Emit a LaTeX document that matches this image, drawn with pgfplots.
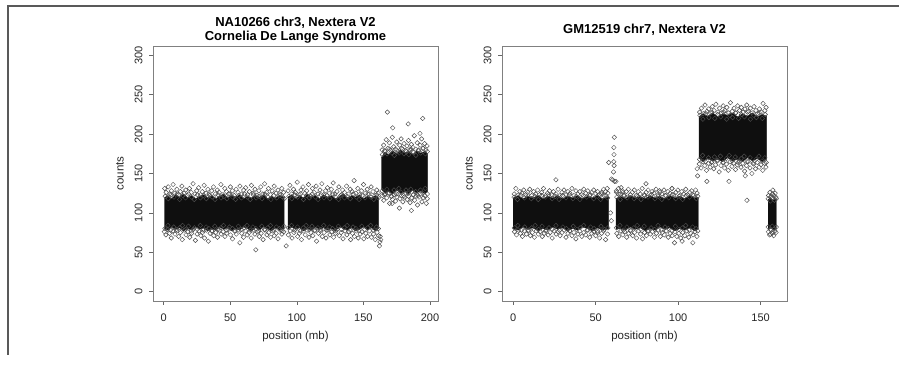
\documentclass[border=0pt]{standalone}
\usepackage{pgfplots}
\pgfplotsset{compat=1.18}
\usepackage{fontspec}
\setmainfont{Liberation Sans}
\pgfplotsset{
  rstyle/.style={
    scale only axis, width=285pt, height=255pt, anchor=south west,
    ymin=-12, ymax=312, ytick={0,50,...,300},
    tick align=outside, xtick pos=left, ytick pos=left,
    major tick length=4pt,
    axis line style={black!50, line width=0.7pt},
    tick style={black!60, line width=0.6pt},
    ticklabel style={font=\fontsize{11}{12}\selectfont, text=black!85},
    yticklabel style={rotate=90, anchor=south},
    yticklabel shift=3pt, xticklabel shift=5pt,
    /pgf/number format/assume math mode=true,
    xlabel={position (mb)}, ylabel={counts},
    label style={font=\fontsize{11.5}{12}\selectfont, text=black!85},
    xlabel style={at={(axis description cs:0.5,-0.141)}, anchor=center},
    ylabel style={at={(axis description cs:-0.116,0.5)}, anchor=center, rotate=0},
    title style={at={(axis description cs:0.5,1.039)}, anchor=center, align=center, font=\bfseries\fontsize{13}{14.5}\selectfont},
    clip=false,
  },
  core/.style={fill=black!94, draw=black!85, line width=0.4pt, forget plot},
  pts/.style={only marks, mark=square, mark size=1.6pt, mark options={rotate=45, draw=black!70, line width=0.45pt, fill=none}, forget plot},
}
\begin{document}
\begin{tikzpicture}
\path[use as bounding box] (0,0) rectangle (899pt,366pt);
\draw[line width=2pt, color=black!65] (8pt,11pt) -- (8pt,360pt) -- (899pt,360pt);
% ---------------- left panel ----------------
\begin{axis}[rstyle, at={(153pt,65pt)}, xmin=-8, xmax=206, xtick={0,50,...,200},
  title={NA10266 chr3, Nextera V2\\Cornelia De Lange Syndrome}]
\addplot[core] coordinates {(0.5,119)(3,122)(6,118)(9,123)(12,120)(15,124)(18,119)(21,122)(24,118)(27,121)(30,123)(33,119)(36,122)(39,118)(42,121)(45,124)(48,119)(51,122)(54,120)(57,123)(60,118)(63,121)(66,119)(69,122)(72,120)(75,123)(78,118)(81,121)(84,119)(87,122)(90.5,120)
(90.5,80)(87,78)(84,81)(81,77)(78,80)(75,82)(72,78)(69,81)(66,77)(63,80)(60,82)(57,78)(54,80)(51,77)(48,81)(45,79)(42,82)(39,78)(36,80)(33,77)(30,81)(27,79)(24,82)(21,78)(18,80)(15,77)(12,81)(9,79)(6,82)(3,78)(0.5,80)};
\addplot[core] coordinates {(93.3,120)(96,123)(99,118)(102,122)(105,119)(108,124)(111,120)(114,122)(117,118)(120,123)(123,120)(126,122)(129,118)(132,121)(135,124)(138,119)(141,122)(144,120)(147,123)(150,118)(153,121)(156,119)(159,122)(161.4,119)
(161.4,80)(159,77)(156,81)(153,78)(150,82)(147,79)(144,77)(141,81)(138,78)(135,80)(132,82)(129,77)(126,80)(123,78)(120,81)(117,79)(114,82)(111,78)(108,80)(105,77)(102,81)(99,79)(96,82)(93.3,79)};
\addplot[core] coordinates {(163.5,170)(166,177)(169,174)(172,179)(175,175)(178,180)(181,176)(184,178)(187,174)(190,179)(193,176)(196,178)(198.2,175)
(198.2,127)(196,124)(193,128)(190,125)(187,129)(184,124)(181,127)(178,125)(175,129)(172,124)(169,127)(166,125)(163.5,130)};
\addplot[pts] coordinates {
(1.2,121)(3.5,118)(5.5,123)(7.8,120)(10.1,124)(12.0,117)(14.3,122)(16.4,119)(18.7,124)(20.9,120)(23.0,117)(25.4,123)(27.5,119)(29.8,122)(32.0,118)(34.1,124)(36.4,120)(38.6,117)(40.8,123)(43.1,119)(45.2,121)(47.5,118)(49.6,124)(51.9,120)(54.0,117)(56.3,122)(58.4,119)(60.7,124)(62.9,120)(65.0,117)(67.3,123)(69.5,119)(71.7,121)(73.9,118)(76.1,124)(78.3,120)(80.5,117)(82.7,122)(84.9,119)(87.1,124)(89.3,120)(90.6,118)
(1.0,80)(3.2,84)(5.3,78)(7.6,82)(9.8,77)(12.1,81)(14.2,84)(16.5,79)(18.6,83)(20.8,77)(23.1,81)(25.2,79)(27.5,84)(29.6,78)(31.9,82)(34.0,80)(36.3,77)(38.4,83)(40.7,79)(42.9,81)(45.0,84)(47.3,78)(49.4,82)(51.7,80)(53.8,77)(56.1,83)(58.2,79)(60.5,81)(62.6,84)(64.9,78)(67.0,82)(69.3,80)(71.4,77)(73.7,83)(75.8,79)(78.1,81)(80.2,84)(82.5,78)(84.6,82)(86.9,80)(89.0,77)(90.4,83)
(0.8,131)(1.9,126)(3.4,133)(4.6,124)(5.8,128)(7.1,136)(8.3,125)(9.9,130)(11.2,123)(12.5,127)(13.7,134)(15.3,125)(16.6,129)(18.0,122)(19.4,131)(20.7,126)(22.1,137)(23.5,124)(24.8,128)(26.3,132)(27.6,123)(29.0,127)(30.4,135)(31.9,125)(33.2,130)(34.6,122)(36.1,128)(37.4,133)(38.9,124)(40.3,129)(41.7,126)(43.0,136)(44.5,123)(45.9,131)(47.2,127)(48.7,124)(50.1,133)(51.6,128)(53.0,122)(54.4,130)(55.8,126)(57.3,134)(58.7,124)(60.1,129)(61.6,132)(63.0,123)(64.4,127)(65.9,135)(67.3,125)(68.6,130)(70.1,122)(71.5,128)(72.9,133)(74.4,124)(75.8,137)(77.2,126)(78.7,131)(80.1,123)(81.5,128)(83.0,134)(84.4,125)(85.8,129)(87.3,122)(88.7,131)(90.1,126)
(0.5,76)(1.7,72)(3.0,79)(4.4,74)(5.7,68)(7.0,77)(8.5,73)(9.8,79)(11.3,70)(12.6,75)(14.0,66)(15.4,78)(16.8,72)(18.1,76)(19.6,69)(21.0,74)(22.3,79)(23.8,65)(25.1,73)(26.5,77)(27.9,71)(29.2,75)(30.7,68)(32.1,78)(33.5,64)(34.9,74)(36.3,77)(37.6,71)(39.1,75)(40.4,69)(41.9,78)(43.2,73)(44.7,76)(46.0,70)(47.4,74)(48.9,79)(50.2,72)(51.7,67)(53.1,77)(54.5,73)(55.9,78)(57.2,62)(58.6,74)(60.0,69)(61.5,77)(62.8,72)(64.3,75)(65.7,68)(67.1,78)(68.5,73)(69.2,53)(70.4,76)(71.8,70)(73.2,74)(74.7,66)(76.0,78)(77.5,72)(78.9,75)(80.3,69)(81.7,77)(83.1,71)(84.5,74)(85.9,67)(87.4,78)(88.8,73)(90.2,76)
(92,58)
(94.0,121)(96.2,118)(98.4,123)(100.6,120)(102.8,124)(105.0,117)(107.2,122)(109.4,119)(111.6,124)(113.8,120)(116.0,117)(118.2,123)(120.4,119)(122.6,122)(124.8,118)(127.0,124)(129.2,120)(131.4,117)(133.6,123)(135.8,119)(138.0,121)(140.2,118)(142.4,124)(144.6,120)(146.8,117)(149.0,122)(151.2,119)(153.4,124)(155.6,120)(157.8,117)(160.0,123)(161.2,119)
(93.8,81)(96.0,84)(98.2,78)(100.4,82)(102.6,77)(104.8,81)(107.0,84)(109.2,79)(111.4,83)(113.6,77)(115.8,81)(118.0,79)(120.2,84)(122.4,78)(124.6,82)(126.8,80)(129.0,77)(131.2,83)(133.4,79)(135.6,81)(137.8,84)(140.0,78)(142.2,82)(144.4,80)(146.6,77)(148.8,83)(151.0,79)(153.2,81)(155.4,84)(157.6,78)(159.8,82)(161.2,80)
(93.4,128)(94.8,135)(96.1,124)(97.5,130)(98.9,126)(100.3,139)(101.7,123)(103.1,129)(104.6,133)(106.0,125)(107.4,128)(108.8,136)(110.2,122)(111.7,131)(113.1,126)(114.5,134)(115.9,124)(117.4,129)(118.8,137)(120.2,123)(121.6,128)(123.0,132)(124.5,125)(125.9,130)(127.3,138)(128.7,124)(130.1,127)(131.6,133)(133.0,122)(134.4,129)(135.8,126)(137.3,134)(138.7,124)(140.1,130)(141.5,127)(143.0,141)(144.4,125)(145.8,131)(147.2,123)(148.6,128)(150.1,136)(151.5,125)(152.9,130)(154.3,124)(155.8,133)(157.2,127)(158.6,122)(160.0,129)(161.2,125)
(93.6,72)(95.0,77)(96.4,68)(97.8,75)(99.2,79)(100.6,70)(102.0,74)(103.5,66)(104.9,77)(106.3,72)(107.7,78)(109.1,69)(110.6,75)(112.0,71)(113.4,78)(114.8,64)(116.2,74)(117.7,77)(119.1,70)(120.5,75)(121.9,68)(123.3,78)(124.8,72)(126.2,76)(127.6,69)(129.0,74)(130.4,79)(131.9,71)(133.3,75)(134.7,67)(136.1,77)(137.6,72)(139.0,76)(140.4,66)(141.8,74)(143.2,70)(144.7,77)(146.1,68)(147.5,73)(148.9,76)(150.3,67)(151.8,74)(153.2,70)(154.6,77)(156.0,69)(157.5,73)(158.9,66)(160.3,75)(161.3,71)
(162,58)(162.4,63)(163,66)(162.6,70)
(164.2,174)(166.0,179)(167.8,175)(169.6,181)(171.4,176)(173.2,173)(175.0,180)(176.8,176)(178.6,182)(180.4,175)(182.2,178)(184.0,174)(185.8,181)(187.6,177)(189.4,173)(191.2,180)(193.0,176)(194.8,182)(196.6,175)(198.0,178)
(164.0,128)(165.8,123)(167.6,130)(169.4,125)(171.2,121)(173.0,129)(174.8,124)(176.6,131)(178.4,126)(180.2,122)(182.0,129)(183.8,125)(185.6,130)(187.4,123)(189.2,127)(191.0,122)(192.8,129)(194.6,125)(196.4,131)(198.0,124)
(164.0,180)(165.2,186)(166.3,178)(167.1,193)(168.0,228)(168.4,182)(169.5,189)(170.6,179)(171.7,196)(172.0,208)(172.8,184)(173.9,181)(175.0,190)(176.1,178)(177.2,186)(178.3,194)(179.4,181)(180.5,188)(181.6,179)(182.7,185)(183.6,213)(183.8,192)(184.9,180)(186.0,187)(187.1,183)(188.2,198)(189.3,181)(190.4,189)(191.5,179)(192.5,201)(192.6,186)(193.7,194)(194.5,220)(194.8,182)(195.9,188)(197.0,180)(197.8,185)
(164.2,122)(165.3,116)(166.4,124)(167.5,119)(168.6,125)(169.7,112)(170.8,121)(171.6,112)(171.9,117)(173.0,123)(174.1,115)(175.2,120)(176.3,124)(177.0,106)(177.4,118)(178.5,122)(179.6,114)(180.7,120)(181.8,125)(182.9,117)(184.0,121)(185.1,113)(186.0,103)(186.2,119)(187.3,123)(188.4,116)(189.5,121)(190.6,110)(191.7,120)(192.8,124)(193.9,114)(195.0,119)(196.1,122)(197.2,112)(198.0,118)
};
\end{axis}
% ---------------- right panel ----------------
\begin{axis}[rstyle, at={(502pt,65pt)}, xmin=-6.8, xmax=166, xtick={0,50,...,150},
  title={GM12519 chr7, Nextera V2}]
\addplot[core] coordinates {(0,119)(3,122)(6,118)(9,121)(12,119)(15,122)(18,118)(21,121)(24,119)(27,122)(30,118)(33,121)(36,119)(39,122)(42,118)(45,121)(48,119)(51,122)(54,118)(57.8,120)
(57.8,80)(54,78)(51,81)(48,77)(45,80)(42,82)(39,78)(36,80)(33,77)(30,81)(27,79)(24,82)(21,78)(18,80)(15,77)(12,81)(9,79)(6,82)(3,78)(0,80)};
\addplot[core] coordinates {(62.2,118)(65,121)(68,118)(71,122)(74,119)(77,121)(80,118)(83,122)(86,119)(89,121)(92,118)(95,122)(98,119)(101,121)(104,118)(107,122)(110,119)(112.2,120)
(112.2,80)(110,77)(107,81)(104,78)(101,80)(98,77)(95,81)(92,79)(89,82)(86,78)(83,80)(80,77)(77,81)(74,79)(71,82)(68,78)(65,80)(62.2,79)};
\addplot[core] coordinates {(112.6,222)(115,226)(118,223)(121,227)(124,222)(127,226)(130,224)(133,227)(136,222)(139,226)(142,223)(145,227)(148,222)(151,225)(153.6,223)
(153.6,168)(151,165)(148,169)(145,166)(142,170)(139,165)(136,168)(133,166)(130,170)(127,165)(124,168)(121,166)(118,169)(115,165)(112.6,170)};
\addplot[core] coordinates {(154.5,117)(156,119)(157.5,116)(159.6,118)(159.6,80)(158,78)(156.5,81)(154.5,79)};
\addplot[pts] coordinates {
(0.5,120)(2.6,117)(4.7,122)(6.8,119)(8.9,123)(11.0,118)(13.1,121)(15.2,117)(17.3,122)(19.4,120)(21.5,123)(23.6,118)(25.7,121)(27.8,117)(29.9,122)(32.0,119)(34.1,123)(36.2,118)(38.3,121)(40.4,117)(42.5,122)(44.6,120)(46.7,123)(48.8,118)(50.9,121)(53.0,117)(55.1,122)(57.2,119)
(0.7,81)(2.8,84)(4.9,78)(7.0,82)(9.1,77)(11.2,81)(13.3,84)(15.4,79)(17.5,83)(19.6,77)(21.7,81)(23.8,79)(25.9,84)(28.0,78)(30.1,82)(32.2,80)(34.3,77)(36.4,83)(38.5,79)(40.6,81)(42.7,84)(44.8,78)(46.9,82)(49.0,80)(51.1,77)(53.2,83)(55.3,79)(57.4,81)
(0.6,124)(1.6,131)(2.8,122)(4.0,127)(5.2,125)(6.4,129)(7.6,123)(8.8,126)(10.0,130)(11.2,122)(12.4,127)(13.6,124)(14.8,129)(16.0,123)(17.2,126)(18.4,131)(19.6,122)(20.8,125)(22.0,128)(23.2,123)(24.4,127)(25.9,142)(26.0,124)(27.2,130)(28.4,122)(29.6,126)(30.8,129)(32.0,123)(33.2,127)(34.4,125)(35.6,131)(36.8,122)(38.0,128)(39.2,124)(40.4,127)(41.6,123)(42.8,130)(44.0,125)(45.2,128)(46.4,122)(47.6,126)(48.8,129)(50.0,124)(51.2,127)(52.4,123)(53.5,124)(53.6,126)(54.8,130)(55.9,127)(56.2,122)(57.4,125)
(0.8,76)(2.0,72)(3.2,78)(4.4,74)(5.6,70)(6.8,77)(8.0,73)(9.2,78)(10.4,71)(11.6,75)(12.8,69)(14.0,77)(15.2,73)(16.4,76)(17.6,70)(18.8,74)(20.0,78)(21.2,72)(22.4,75)(23.6,68)(24.8,77)(26.0,73)(27.2,76)(28.4,71)(29.6,75)(30.8,78)(32.0,69)(33.2,74)(34.4,77)(35.6,71)(36.8,75)(38.0,67)(39.2,73)(40.4,77)(41.6,70)(42.8,75)(44.0,72)(45.2,78)(46.4,69)(47.6,74)(48.8,76)(50.0,71)(51.2,75)(52.4,68)(53.6,74)(54.8,77)(56.0,66)(57.2,73)
(57.9,164)(59.5,143)(60.3,142)(60.8,152)(61.0,165)(61.1,174)(61.0,183)(61.3,196)(61.2,160)(61.5,140)(62.3,140)(62.5,128)(57.0,131)(63.8,124)(65.4,132)(66.4,126)(59.0,100)(59.5,90)(80.5,137)(88.7,128)(96.3,131)
(62.8,120)(64.9,117)(67.0,122)(69.1,119)(71.2,123)(73.3,118)(75.4,121)(77.5,117)(79.6,122)(81.7,120)(83.8,123)(85.9,118)(88.0,121)(90.1,117)(92.2,122)(94.3,119)(96.4,123)(98.5,118)(100.6,121)(102.7,117)(104.8,122)(106.9,120)(109.0,123)(111.1,118)(111.9,121)
(62.6,81)(64.7,84)(66.8,78)(68.9,82)(71.0,77)(73.1,81)(75.2,84)(77.3,79)(79.4,83)(81.5,77)(83.6,81)(85.7,79)(87.8,84)(89.9,78)(92.0,82)(94.1,80)(96.2,77)(98.3,83)(100.4,79)(102.5,81)(104.6,84)(106.7,78)(108.8,82)(110.9,80)(111.9,77)
(62.6,126)(63.8,131)(65.0,124)(66.2,128)(67.4,122)(68.6,127)(69.8,130)(71.0,123)(72.2,126)(73.4,129)(74.6,122)(75.8,127)(77.0,124)(78.2,131)(79.4,123)(80.6,126)(81.8,129)(83.0,122)(84.2,127)(85.4,125)(86.6,130)(87.8,123)(89.0,126)(90.2,124)(91.4,129)(92.6,122)(93.8,127)(95.0,125)(96.2,131)(97.4,123)(98.6,126)(99.8,129)(101.0,122)(102.2,127)(103.4,124)(104.6,130)(105.8,123)(107.0,126)(108.2,128)(109.4,122)(110.6,129)(111.5,125)
(62.8,74)(64.0,70)(65.2,77)(66.4,72)(67.6,76)(68.8,69)(70.0,74)(71.2,78)(72.4,71)(73.6,75)(74.8,68)(76.0,77)(77.2,73)(78.4,67)(79.6,75)(80.8,71)(82.0,77)(83.2,73)(84.4,76)(85.6,69)(86.8,74)(88.0,78)(89.2,70)(90.4,75)(91.6,72)(92.8,77)(94.0,69)(95.2,74)(96.4,71)(97.8,62)(98.0,76)(99.2,70)(100.4,74)(101.6,68)(102.4,64)(102.8,75)(104.0,71)(105.2,77)(106.4,69)(107.6,74)(108.9,62)(109.0,72)(110.2,76)(111.4,70)
(113.2,224)(115.0,219)(116.8,226)(118.6,221)(120.4,228)(122.2,220)(124.0,225)(125.8,222)(127.6,228)(129.4,219)(131.2,224)(133.0,221)(134.8,227)(136.6,220)(138.4,225)(140.2,222)(142.0,228)(143.8,219)(145.6,224)(147.4,221)(149.2,227)(151.0,220)(152.8,225)
(113.0,168)(114.8,173)(116.6,165)(118.4,170)(120.2,164)(122.0,171)(123.8,167)(125.6,172)(127.4,164)(129.2,169)(131.0,173)(132.8,166)(134.6,171)(136.4,164)(138.2,169)(140.0,172)(141.8,165)(143.6,170)(145.4,163)(147.2,168)(149.0,172)(150.8,166)(152.6,170)(153.4,164)
(113.0,228)(114.1,233)(115.2,226)(116.3,237)(117.4,229)(118.5,232)(119.6,227)(120.7,235)(121.8,230)(122.9,238)(124.0,228)(125.1,233)(126.2,227)(127.3,236)(128.4,230)(129.5,234)(130.6,227)(131.7,240)(132.8,229)(133.9,233)(135.0,227)(136.1,236)(137.2,230)(138.3,234)(139.4,228)(140.5,232)(141.6,237)(142.7,229)(143.8,233)(144.9,227)(146.0,235)(147.1,230)(148.2,226)(149.3,232)(150.4,228)(151.5,239)(152.6,230)(153.3,234)
(112.8,162)(113.9,157)(115.0,165)(116.1,160)(117.2,154)(118.3,163)(119.4,158)(120.5,165)(121.6,156)(122.7,161)(123.8,166)(124.9,152)(126.0,160)(127.1,164)(128.2,157)(129.3,162)(130.4,154)(131.5,165)(132.6,159)(133.7,163)(134.8,155)(135.9,161)(137.0,166)(138.1,158)(139.2,163)(140.3,153)(141.4,160)(142.5,165)(143.6,157)(144.7,150)(145.8,162)(146.9,156)(148.0,164)(149.1,158)(150.2,161)(151.3,154)(152.4,163)(153.2,158)
(117.4,140)(130.8,140)(141.7,116)(111.5,156)(111.8,147)(140.7,147)
(154.6,118)(155.9,115)(157.1,119)(158.4,116)(159.5,118)(154.6,82)(155.9,79)(157.1,83)(158.4,80)(159.5,82)
(154.8,122)(155.6,126)(156.4,121)(157.2,124)(157.4,129)(158.0,122)(158.8,125)(159.3,120)
(154.7,76)(155.5,72)(156.3,78)(157.1,74)(157.9,71)(158.7,77)(159.4,75)(156.0,73)
};
\end{axis}
\end{tikzpicture}
\end{document}
